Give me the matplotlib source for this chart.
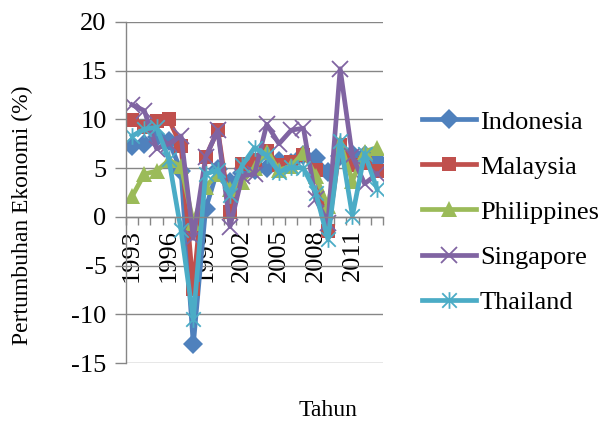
import matplotlib
matplotlib.use("Agg")
import matplotlib.pyplot as plt
from matplotlib.path import Path
import numpy as np

years = list(range(1993, 2014))
indonesia = [7.3, 7.5, 8.2, 7.8, 4.7, -13.1, 0.8, 4.9, 3.6, 4.5, 4.8, 5.0, 5.7, 5.5, 6.3, 6.0, 4.6, 6.2, 6.5, 6.3, 5.8]
malaysia = [9.9, 9.2, 9.8, 10.0, 7.3, -7.4, 6.1, 8.9, 0.5, 5.4, 5.8, 6.8, 5.3, 5.6, 6.3, 4.8, -1.5, 7.4, 5.3, 5.5, 4.7]
philippines = [2.1, 4.4, 4.7, 5.8, 5.2, -0.6, 3.1, 4.4, 2.9, 3.6, 5.0, 6.7, 4.8, 5.2, 6.6, 4.2, 1.1, 7.6, 3.7, 6.7, 7.1]
singapore = [11.5, 10.9, 7.0, 7.5, 8.3, -2.2, 6.1, 8.9, -1.0, 4.2, 4.4, 9.5, 7.5, 8.9, 9.1, 1.8, -0.6, 15.2, 6.2, 3.4, 4.4]
thailand = [8.3, 9.0, 9.2, 5.9, -1.4, -10.5, 4.4, 4.8, 2.2, 5.3, 7.1, 6.3, 4.6, 5.1, 5.0, 2.5, -2.3, 7.8, 0.1, 6.5, 2.9]
series_names = ["Indonesia", "Malaysia", "Philippines", "Singapore", "Thailand"]
yticks = [-15, -10, -5, 0, 5, 10, 15, 20]

plt.rcParams['font.family'] = ['Liberation Serif', 'DejaVu Serif']

star = Path([(-1, -1), (1, 1), (-1, 1), (1, -1), (0, -1.15), (0, 1.15)],
            [Path.MOVETO, Path.LINETO, Path.MOVETO, Path.LINETO, Path.MOVETO, Path.LINETO])

styles = [
    dict(color="#4F81BD", marker="D", ms=10, mew=0),
    dict(color="#C0504D", marker="s", ms=10.5, mew=0),
    dict(color="#9BBB59", marker="^", ms=12, mew=0),
    dict(color="#8064A2", marker="x", ms=11, mew=1.3),
    dict(color="#4BACC6", marker=star, ms=12, mew=1.3),
]

fig = plt.figure(figsize=(6.01, 4.25), dpi=100)
ax = fig.add_axes([126/601, 1-363/425, (383-126)/601, (363-22)/425])

x = np.arange(len(years))
data = [indonesia, malaysia, philippines, singapore, thailand]
for name, vals, st in zip(series_names, data, styles):
    ax.plot(x, vals, color=st["color"], lw=3.4, marker=st["marker"], markersize=st["ms"],
            markeredgewidth=st["mew"], markeredgecolor=st["color"], markerfacecolor=st["color"],
            label=name, solid_joinstyle='round')

ax.set_xlim(-0.5, len(years) - 0.5)
ax.set_ylim(-15, 20)
ax.set_yticks(yticks)
ax.set_yticklabels([str(v) for v in yticks], fontsize=19)
ax.yaxis.grid(True, color="#868686", lw=1.0)
ax.set_axisbelow(True)
ax.tick_params(axis='y', length=8, width=1.0, color="#868686", pad=6)

for s in ['top', 'right']:
    ax.spines[s].set_visible(False)
ax.spines['left'].set_color("#868686")
ax.spines['left'].set_linewidth(1.0)
ax.spines['bottom'].set_position(('data', 0))
ax.spines['bottom'].set_color("#868686")
ax.spines['bottom'].set_linewidth(1.0)

ax.set_xticks(x[::3])
ax.set_xticklabels([str(y) for y in years[::3]], rotation=90, fontsize=19, va='top')
ax.set_xticks(np.arange(-0.5, len(years)), minor=True)
ax.tick_params(axis='x', which='major', length=0, pad=9)
ax.tick_params(axis='x', which='minor', length=6, width=1.0, color="#868686")

fig.text(22/601, 1-215/425, "Pertumbuhan Ekonomi (%)", rotation=90, fontsize=17,
         ha='center', va='center')
fig.text(328/601, 1-411/425, "Tahun", fontsize=17, ha='center', va='center')

leg = ax.legend(loc='center left', bbox_to_anchor=(422/601, 1-212/425), bbox_transform=fig.transFigure,
                frameon=False, fontsize=19, handlelength=2.05, handletextpad=0.15,
                labelspacing=0.82, borderpad=0, borderaxespad=0)

fig.savefig("out.png", dpi=100)
